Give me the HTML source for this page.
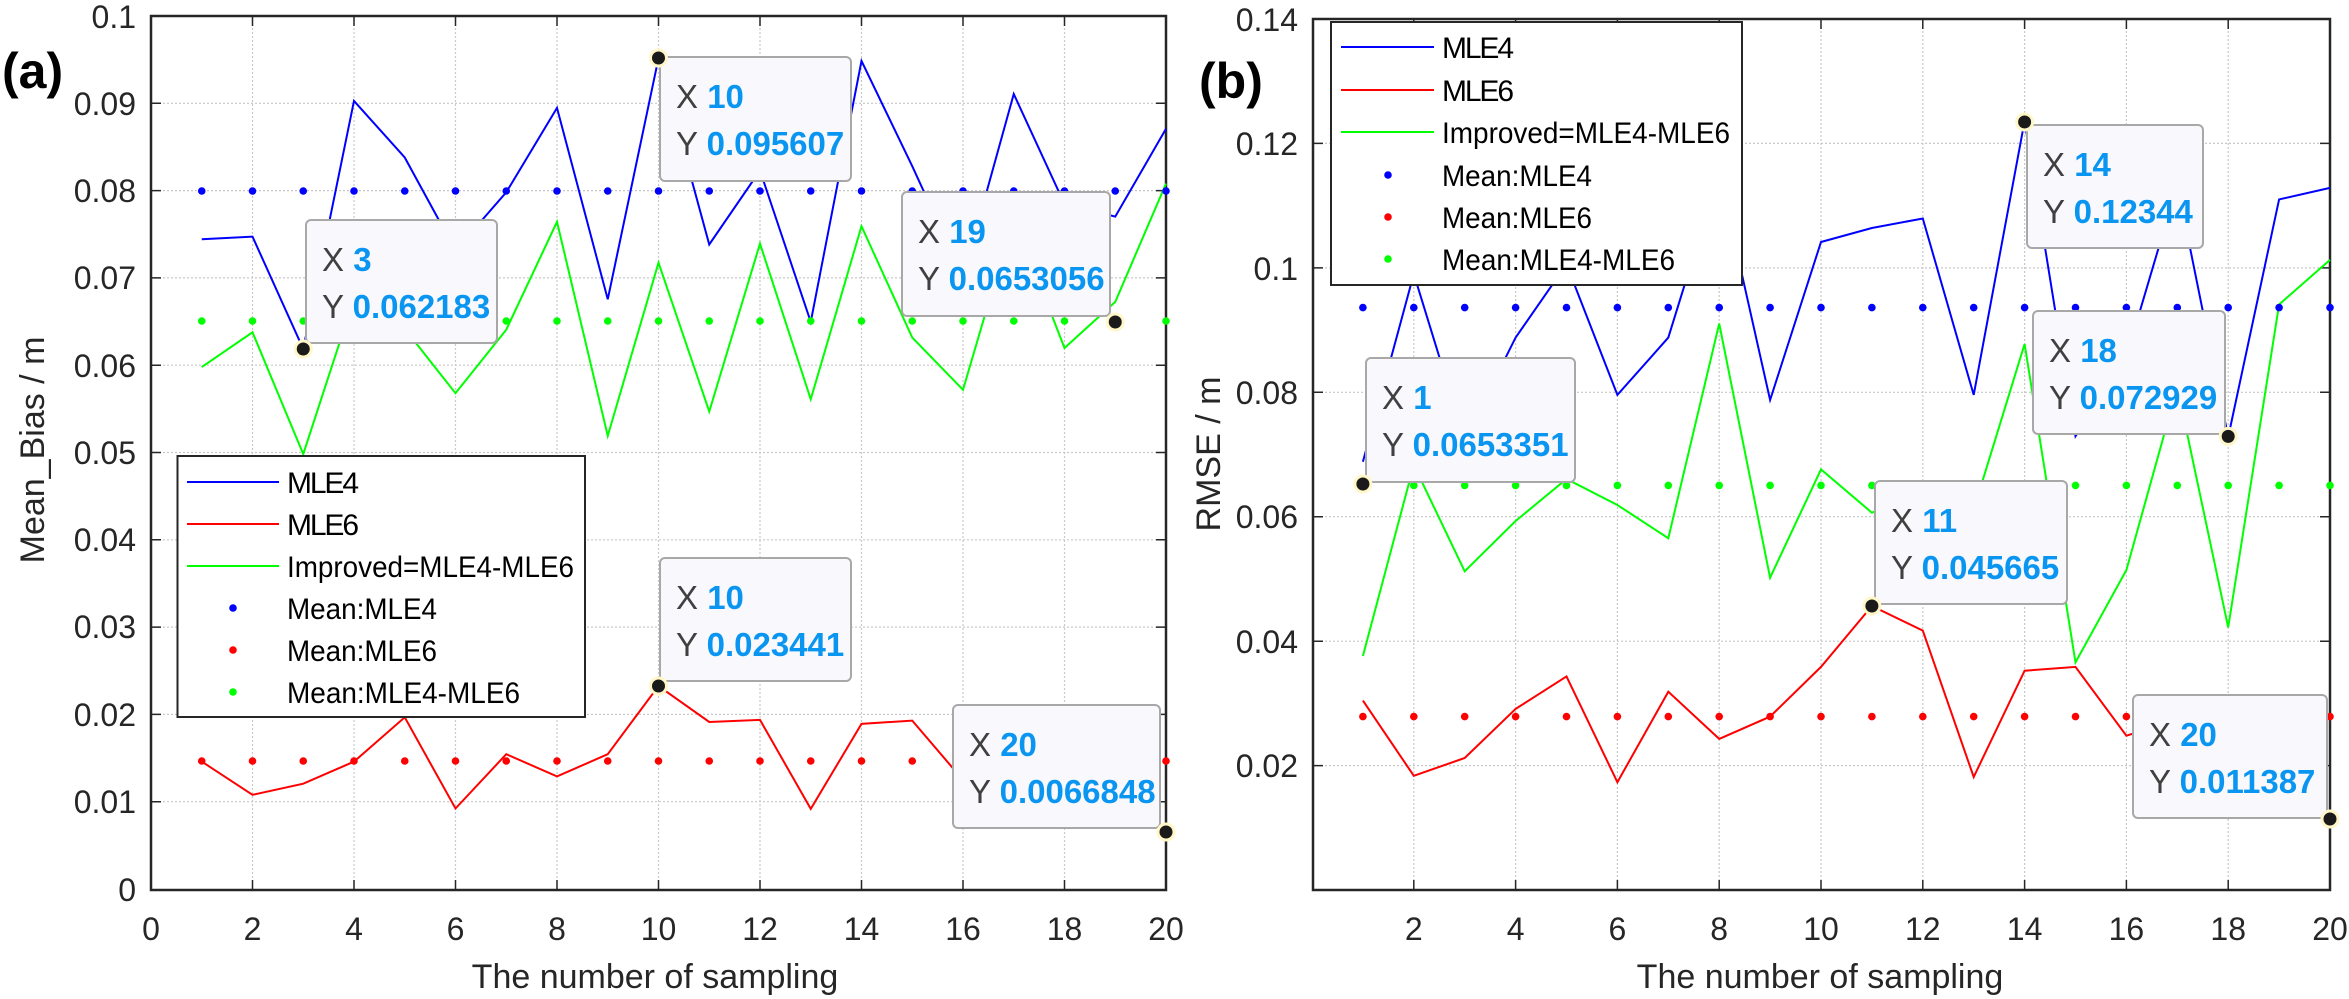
<!DOCTYPE html>
<html><head><meta charset="utf-8"><style>
html,body{margin:0;padding:0;background:#fff;}
svg{display:block;font-family:"Liberation Sans",Arial,sans-serif;}
.tk{font-size:32px;fill:#262626;}
.lg{font-size:30px;fill:#000;}
.tx{font-size:33px;fill:#404040;}
.tv{font-size:33px;fill:#0a96f0;font-weight:bold;}
.grid{stroke:#c8c8c8;stroke-width:1.2;stroke-dasharray:2,2;}
</style></head><body>
<svg width="2349" height="999" viewBox="0 0 2349 999">
<!-- LEFT PLOT -->
<g>
<g class="grid">
<line x1="252.5" y1="16" x2="252.5" y2="890"/><line x1="354" y1="16" x2="354" y2="890"/><line x1="455.5" y1="16" x2="455.5" y2="890"/><line x1="557" y1="16" x2="557" y2="890"/><line x1="658.5" y1="16" x2="658.5" y2="890"/><line x1="760" y1="16" x2="760" y2="890"/><line x1="861.5" y1="16" x2="861.5" y2="890"/><line x1="963" y1="16" x2="963" y2="890"/><line x1="1064.5" y1="16" x2="1064.5" y2="890"/>
<line x1="151" y1="103.3" x2="1166" y2="103.3"/><line x1="151" y1="190.6" x2="1166" y2="190.6"/><line x1="151" y1="277.9" x2="1166" y2="277.9"/><line x1="151" y1="365.2" x2="1166" y2="365.2"/><line x1="151" y1="452.5" x2="1166" y2="452.5"/><line x1="151" y1="539.8" x2="1166" y2="539.8"/><line x1="151" y1="627.1" x2="1166" y2="627.1"/><line x1="151" y1="714.4" x2="1166" y2="714.4"/><line x1="151" y1="801.7" x2="1166" y2="801.7"/>
</g>
<g stroke="#262626" stroke-width="1.5">
<path d="M252.5 890v-10M354 890v-10M455.5 890v-10M557 890v-10M658.5 890v-10M760 890v-10M861.5 890v-10M963 890v-10M1064.5 890v-10M252.5 16v10M354 16v10M455.5 16v10M557 16v10M658.5 16v10M760 16v10M861.5 16v10M963 16v10M1064.5 16v10"/>
<path d="M151 103.3h10M151 190.6h10M151 277.9h10M151 365.2h10M151 452.5h10M151 539.8h10M151 627.1h10M151 714.4h10M151 801.7h10M1166 103.3h-10M1166 190.6h-10M1166 277.9h-10M1166 365.2h-10M1166 452.5h-10M1166 539.8h-10M1166 627.1h-10M1166 714.4h-10M1166 801.7h-10"/>
</g>
<rect x="151" y="16" width="1015" height="874" fill="none" stroke="#262626" stroke-width="2.5"/>
<g class="tk" text-anchor="end">
<text x="136" y="28">0.1</text><text x="136" y="115">0.09</text><text x="136" y="202">0.08</text><text x="136" y="289">0.07</text><text x="136" y="377">0.06</text><text x="136" y="464">0.05</text><text x="136" y="551">0.04</text><text x="136" y="638">0.03</text><text x="136" y="726">0.02</text><text x="136" y="813">0.01</text><text x="136" y="901">0</text>
</g>
<g class="tk" text-anchor="middle">
<text x="151" y="940">0</text><text x="252.5" y="940">2</text><text x="354" y="940">4</text><text x="455.5" y="940">6</text><text x="557" y="940">8</text><text x="658.5" y="940">10</text><text x="760" y="940">12</text><text x="861.5" y="940">14</text><text x="963" y="940">16</text><text x="1064.5" y="940">18</text><text x="1166" y="940">20</text>
</g>
<text x="655" y="988" class="tk" text-anchor="middle" style="font-size:34px">The number of sampling</text>
<text transform="translate(44,450) rotate(-90)" class="tk" text-anchor="middle" style="font-size:34px">Mean_Bias / m</text>
<text x="2" y="88" style="font-size:50px;font-weight:bold" fill="#000">(a)</text>

<polyline fill="none" stroke="#0000ff" stroke-width="2" points="201.75,239.2 252.5,236.6 303.25,349 354,100.9 404.75,157.5 455.5,250.5 506.25,192.3 557,107.9 607.75,299.3 658.5,58.2 709.25,244.5 760,170.5 810.75,321.9 861.5,60.9 912.25,166.2 963,277 1013.75,94 1064.5,204 1115.25,216.6 1166,128.8"/>
<polyline fill="none" stroke="#00ff00" stroke-width="2" points="201.75,367.1 252.5,332.3 303.25,454.1 354,298.4 404.75,328.9 455.5,393.2 506.25,329.7 557,221.8 607.75,435.9 658.5,262.7 709.25,411.5 760,243.6 810.75,399.3 861.5,226.2 912.25,337.6 963,389.8 1013.75,217 1064.5,348 1115.25,301.9 1166,183.6"/>
<polyline fill="none" stroke="#ff0000" stroke-width="2" points="201.75,761.6 252.5,794.8 303.25,783.7 354,761.6 404.75,717.3 455.5,808.5 506.25,754.2 557,776.4 607.75,754.2 658.5,686 709.25,722 760,719.9 810.75,808.9 861.5,723.9 912.25,720.6 963,780 1013.75,781 1064.5,777 1115.25,785.6 1166,831.8"/>
<g fill="#0000ff"><circle cx="201.75" cy="191" r="3.8"/><circle cx="252.5" cy="191" r="3.8"/><circle cx="303.25" cy="191" r="3.8"/><circle cx="354" cy="191" r="3.8"/><circle cx="404.75" cy="191" r="3.8"/><circle cx="455.5" cy="191" r="3.8"/><circle cx="506.25" cy="191" r="3.8"/><circle cx="557" cy="191" r="3.8"/><circle cx="607.75" cy="191" r="3.8"/><circle cx="658.5" cy="191" r="3.8"/><circle cx="709.25" cy="191" r="3.8"/><circle cx="760" cy="191" r="3.8"/><circle cx="810.75" cy="191" r="3.8"/><circle cx="861.5" cy="191" r="3.8"/><circle cx="912.25" cy="191" r="3.8"/><circle cx="963" cy="191" r="3.8"/><circle cx="1013.75" cy="191" r="3.8"/><circle cx="1064.5" cy="191" r="3.8"/><circle cx="1115.25" cy="191" r="3.8"/><circle cx="1166" cy="191" r="3.8"/></g>
<g fill="#00ff00"><circle cx="201.75" cy="321" r="3.8"/><circle cx="252.5" cy="321" r="3.8"/><circle cx="303.25" cy="321" r="3.8"/><circle cx="354" cy="321" r="3.8"/><circle cx="404.75" cy="321" r="3.8"/><circle cx="455.5" cy="321" r="3.8"/><circle cx="506.25" cy="321" r="3.8"/><circle cx="557" cy="321" r="3.8"/><circle cx="607.75" cy="321" r="3.8"/><circle cx="658.5" cy="321" r="3.8"/><circle cx="709.25" cy="321" r="3.8"/><circle cx="760" cy="321" r="3.8"/><circle cx="810.75" cy="321" r="3.8"/><circle cx="861.5" cy="321" r="3.8"/><circle cx="912.25" cy="321" r="3.8"/><circle cx="963" cy="321" r="3.8"/><circle cx="1013.75" cy="321" r="3.8"/><circle cx="1064.5" cy="321" r="3.8"/><circle cx="1115.25" cy="321" r="3.8"/><circle cx="1166" cy="321" r="3.8"/></g>
<g fill="#ff0000"><circle cx="201.75" cy="761" r="3.8"/><circle cx="252.5" cy="761" r="3.8"/><circle cx="303.25" cy="761" r="3.8"/><circle cx="354" cy="761" r="3.8"/><circle cx="404.75" cy="761" r="3.8"/><circle cx="455.5" cy="761" r="3.8"/><circle cx="506.25" cy="761" r="3.8"/><circle cx="557" cy="761" r="3.8"/><circle cx="607.75" cy="761" r="3.8"/><circle cx="658.5" cy="761" r="3.8"/><circle cx="709.25" cy="761" r="3.8"/><circle cx="760" cy="761" r="3.8"/><circle cx="810.75" cy="761" r="3.8"/><circle cx="861.5" cy="761" r="3.8"/><circle cx="912.25" cy="761" r="3.8"/><circle cx="963" cy="761" r="3.8"/><circle cx="1013.75" cy="761" r="3.8"/><circle cx="1064.5" cy="761" r="3.8"/><circle cx="1115.25" cy="761" r="3.8"/><circle cx="1166" cy="761" r="3.8"/></g>

<!-- left legend -->
<rect x="177.5" y="456" width="407.5" height="261" fill="#fff" stroke="#262626" stroke-width="2"/>
<line x1="187" y1="482" x2="279" y2="482" stroke="#0000ff" stroke-width="2"/>
<line x1="187" y1="524" x2="279" y2="524" stroke="#ff0000" stroke-width="2"/>
<line x1="187" y1="566" x2="279" y2="566" stroke="#00ff00" stroke-width="2"/>
<circle cx="233" cy="608" r="3.8" fill="#0000ff"/><circle cx="233" cy="650" r="3.8" fill="#ff0000"/><circle cx="233" cy="692" r="3.8" fill="#00ff00"/>
<g class="lg"><text x="287" y="493" textLength="72">MLE4</text><text x="287" y="535" textLength="72">MLE6</text><text x="287" y="577" textLength="287" lengthAdjust="spacingAndGlyphs">Improved=MLE4-MLE6</text><text x="287" y="619" textLength="150" lengthAdjust="spacingAndGlyphs">Mean:MLE4</text><text x="287" y="661" textLength="150" lengthAdjust="spacingAndGlyphs">Mean:MLE6</text><text x="287" y="703" textLength="233" lengthAdjust="spacingAndGlyphs">Mean:MLE4-MLE6</text></g>
</g>

<!-- RIGHT PLOT -->
<g>
<g class="grid">
<line x1="1413.8" y1="19" x2="1413.8" y2="890"/><line x1="1515.6" y1="19" x2="1515.6" y2="890"/><line x1="1617.4" y1="19" x2="1617.4" y2="890"/><line x1="1719.2" y1="19" x2="1719.2" y2="890"/><line x1="1821" y1="19" x2="1821" y2="890"/><line x1="1922.8" y1="19" x2="1922.8" y2="890"/><line x1="2024.6" y1="19" x2="2024.6" y2="890"/><line x1="2126.4" y1="19" x2="2126.4" y2="890"/><line x1="2228.2" y1="19" x2="2228.2" y2="890"/>
<line x1="1313" y1="143.4" x2="2330" y2="143.4"/><line x1="1313" y1="267.9" x2="2330" y2="267.9"/><line x1="1313" y1="392.3" x2="2330" y2="392.3"/><line x1="1313" y1="516.7" x2="2330" y2="516.7"/><line x1="1313" y1="641.2" x2="2330" y2="641.2"/><line x1="1313" y1="765.6" x2="2330" y2="765.6"/>
</g>
<g stroke="#262626" stroke-width="1.5">
<path d="M1413.8 890v-10M1515.6 890v-10M1617.4 890v-10M1719.2 890v-10M1821 890v-10M1922.8 890v-10M2024.6 890v-10M2126.4 890v-10M2228.2 890v-10M1413.8 19v10M1515.6 19v10M1617.4 19v10M1719.2 19v10M1821 19v10M1922.8 19v10M2024.6 19v10M2126.4 19v10M2228.2 19v10"/>
<path d="M1313 143.4h10M1313 267.9h10M1313 392.3h10M1313 516.7h10M1313 641.2h10M1313 765.6h10M2330 143.4h-10M2330 267.9h-10M2330 392.3h-10M2330 516.7h-10M2330 641.2h-10M2330 765.6h-10"/>
</g>
<rect x="1313" y="19" width="1017" height="871" fill="none" stroke="#262626" stroke-width="2.5"/>
<g class="tk" text-anchor="end">
<text x="1298" y="31">0.14</text><text x="1298" y="155">0.12</text><text x="1298" y="280">0.1</text><text x="1298" y="404">0.08</text><text x="1298" y="528">0.06</text><text x="1298" y="653">0.04</text><text x="1298" y="777">0.02</text>
</g>
<g class="tk" text-anchor="middle">
<text x="1413.8" y="940">2</text><text x="1515.6" y="940">4</text><text x="1617.4" y="940">6</text><text x="1719.2" y="940">8</text><text x="1821" y="940">10</text><text x="1922.8" y="940">12</text><text x="2024.6" y="940">14</text><text x="2126.4" y="940">16</text><text x="2228.2" y="940">18</text><text x="2330" y="940">20</text>
</g>
<text x="1820" y="988" class="tk" text-anchor="middle" style="font-size:34px">The number of sampling</text>
<text transform="translate(1220,454) rotate(-90)" class="tk" text-anchor="middle" style="font-size:34px">RMSE / m</text>
<text x="1199" y="98" style="font-size:50px;font-weight:bold" fill="#000">(b)</text>

<polyline fill="none" stroke="#0000ff" stroke-width="2" points="1362.9,461.8 1413.8,273.9 1464.7,439.5 1515.6,337.6 1566.5,264.3 1617.4,394.9 1668.3,337.6 1719.2,173.2 1770.1,400 1821,242 1871.9,228 1922.8,218.5 1973.7,394.9 2024.6,121 2075.5,436.3 2126.4,356.7 2177.3,184.7 2228.2,437 2279.1,199.4 2330,187.9"/>
<polyline fill="none" stroke="#00ff00" stroke-width="2" points="1362.9,656 1413.8,465 1464.7,571.3 1515.6,521 1566.5,479 1617.4,505 1668.3,538.2 1719.2,323.6 1770.1,577.7 1821,469.4 1871.9,512.7 1922.8,490.4 1973.7,509.6 2024.6,344 2075.5,662.4 2126.4,570 2177.3,387.3 2228.2,627.4 2279.1,304.5 2330,259.9"/>
<polyline fill="none" stroke="#ff0000" stroke-width="2" points="1362.9,700.6 1413.8,775.8 1464.7,758 1515.6,708.9 1566.5,676.4 1617.4,782.2 1668.3,691.7 1719.2,738.9 1770.1,716.6 1821,666.9 1871.9,606 1922.8,630.6 1973.7,777 2024.6,670.7 2075.5,666.9 2126.4,735.7 2177.3,719.7 2228.2,751.6 2279.1,796 2330,819.2"/>
<g fill="#0000ff"><circle cx="1362.9" cy="307.6" r="3.8"/><circle cx="1413.8" cy="307.6" r="3.8"/><circle cx="1464.7" cy="307.6" r="3.8"/><circle cx="1515.6" cy="307.6" r="3.8"/><circle cx="1566.5" cy="307.6" r="3.8"/><circle cx="1617.4" cy="307.6" r="3.8"/><circle cx="1668.3" cy="307.6" r="3.8"/><circle cx="1719.2" cy="307.6" r="3.8"/><circle cx="1770.1" cy="307.6" r="3.8"/><circle cx="1821" cy="307.6" r="3.8"/><circle cx="1871.9" cy="307.6" r="3.8"/><circle cx="1922.8" cy="307.6" r="3.8"/><circle cx="1973.7" cy="307.6" r="3.8"/><circle cx="2024.6" cy="307.6" r="3.8"/><circle cx="2075.5" cy="307.6" r="3.8"/><circle cx="2126.4" cy="307.6" r="3.8"/><circle cx="2177.3" cy="307.6" r="3.8"/><circle cx="2228.2" cy="307.6" r="3.8"/><circle cx="2279.1" cy="307.6" r="3.8"/><circle cx="2330" cy="307.6" r="3.8"/></g>
<g fill="#00ff00"><circle cx="1362.9" cy="485.4" r="3.8"/><circle cx="1413.8" cy="485.4" r="3.8"/><circle cx="1464.7" cy="485.4" r="3.8"/><circle cx="1515.6" cy="485.4" r="3.8"/><circle cx="1566.5" cy="485.4" r="3.8"/><circle cx="1617.4" cy="485.4" r="3.8"/><circle cx="1668.3" cy="485.4" r="3.8"/><circle cx="1719.2" cy="485.4" r="3.8"/><circle cx="1770.1" cy="485.4" r="3.8"/><circle cx="1821" cy="485.4" r="3.8"/><circle cx="1871.9" cy="485.4" r="3.8"/><circle cx="1922.8" cy="485.4" r="3.8"/><circle cx="1973.7" cy="485.4" r="3.8"/><circle cx="2024.6" cy="485.4" r="3.8"/><circle cx="2075.5" cy="485.4" r="3.8"/><circle cx="2126.4" cy="485.4" r="3.8"/><circle cx="2177.3" cy="485.4" r="3.8"/><circle cx="2228.2" cy="485.4" r="3.8"/><circle cx="2279.1" cy="485.4" r="3.8"/><circle cx="2330" cy="485.4" r="3.8"/></g>
<g fill="#ff0000"><circle cx="1362.9" cy="716.6" r="3.8"/><circle cx="1413.8" cy="716.6" r="3.8"/><circle cx="1464.7" cy="716.6" r="3.8"/><circle cx="1515.6" cy="716.6" r="3.8"/><circle cx="1566.5" cy="716.6" r="3.8"/><circle cx="1617.4" cy="716.6" r="3.8"/><circle cx="1668.3" cy="716.6" r="3.8"/><circle cx="1719.2" cy="716.6" r="3.8"/><circle cx="1770.1" cy="716.6" r="3.8"/><circle cx="1821" cy="716.6" r="3.8"/><circle cx="1871.9" cy="716.6" r="3.8"/><circle cx="1922.8" cy="716.6" r="3.8"/><circle cx="1973.7" cy="716.6" r="3.8"/><circle cx="2024.6" cy="716.6" r="3.8"/><circle cx="2075.5" cy="716.6" r="3.8"/><circle cx="2126.4" cy="716.6" r="3.8"/><circle cx="2177.3" cy="716.6" r="3.8"/><circle cx="2228.2" cy="716.6" r="3.8"/><circle cx="2279.1" cy="716.6" r="3.8"/><circle cx="2330" cy="716.6" r="3.8"/></g>

<!-- right legend -->
<rect x="1331" y="22" width="411" height="263" fill="#fff" stroke="#262626" stroke-width="2"/>
<line x1="1341" y1="47" x2="1434" y2="47" stroke="#0000ff" stroke-width="2"/>
<line x1="1341" y1="90" x2="1434" y2="90" stroke="#ff0000" stroke-width="2"/>
<line x1="1341" y1="132" x2="1434" y2="132" stroke="#00ff00" stroke-width="2"/>
<circle cx="1388" cy="175" r="3.8" fill="#0000ff"/><circle cx="1388" cy="217" r="3.8" fill="#ff0000"/><circle cx="1388" cy="259" r="3.8" fill="#00ff00"/>
<g class="lg"><text x="1442" y="58" textLength="72">MLE4</text><text x="1442" y="101" textLength="72">MLE6</text><text x="1442" y="143" textLength="288" lengthAdjust="spacingAndGlyphs">Improved=MLE4-MLE6</text><text x="1442" y="186" textLength="150" lengthAdjust="spacingAndGlyphs">Mean:MLE4</text><text x="1442" y="228" textLength="150" lengthAdjust="spacingAndGlyphs">Mean:MLE6</text><text x="1442" y="270" textLength="233" lengthAdjust="spacingAndGlyphs">Mean:MLE4-MLE6</text></g>
</g>

<!-- datatips -->
<g>
<g fill="#f8f8fd" stroke="#a8a8a8" stroke-width="2">
<rect x="306" y="220" width="191" height="123" rx="5"/>
<rect x="660" y="57" width="191" height="124" rx="5"/>
<rect x="902" y="192" width="208" height="124" rx="5"/>
<rect x="660" y="558" width="191" height="123" rx="5"/>
<rect x="953" y="705" width="207" height="123" rx="5"/>
<rect x="1366" y="358" width="209" height="124" rx="5"/>
<rect x="2027" y="125" width="176" height="123" rx="5"/>
<rect x="2033" y="311" width="192" height="123" rx="5"/>
<rect x="1875" y="481" width="192" height="123" rx="5"/>
<rect x="2133" y="695" width="194" height="123" rx="5"/>
</g>
<g>
<text x="322" y="271"><tspan class="tx">X </tspan><tspan class="tv">3</tspan></text><text x="322" y="318"><tspan class="tx">Y </tspan><tspan class="tv">0.062183</tspan></text>
<text x="676" y="108"><tspan class="tx">X </tspan><tspan class="tv">10</tspan></text><text x="676" y="155"><tspan class="tx">Y </tspan><tspan class="tv">0.095607</tspan></text>
<text x="918" y="243"><tspan class="tx">X </tspan><tspan class="tv">19</tspan></text><text x="918" y="290"><tspan class="tx">Y </tspan><tspan class="tv">0.0653056</tspan></text>
<text x="676" y="609"><tspan class="tx">X </tspan><tspan class="tv">10</tspan></text><text x="676" y="656"><tspan class="tx">Y </tspan><tspan class="tv">0.023441</tspan></text>
<text x="969" y="756"><tspan class="tx">X </tspan><tspan class="tv">20</tspan></text><text x="969" y="803"><tspan class="tx">Y </tspan><tspan class="tv">0.0066848</tspan></text>
<text x="1382" y="409"><tspan class="tx">X </tspan><tspan class="tv">1</tspan></text><text x="1382" y="456"><tspan class="tx">Y </tspan><tspan class="tv">0.0653351</tspan></text>
<text x="2043" y="176"><tspan class="tx">X </tspan><tspan class="tv">14</tspan></text><text x="2043" y="223"><tspan class="tx">Y </tspan><tspan class="tv">0.12344</tspan></text>
<text x="2049" y="362"><tspan class="tx">X </tspan><tspan class="tv">18</tspan></text><text x="2049" y="409"><tspan class="tx">Y </tspan><tspan class="tv">0.072929</tspan></text>
<text x="1891" y="532"><tspan class="tx">X </tspan><tspan class="tv">11</tspan></text><text x="1891" y="579"><tspan class="tx">Y </tspan><tspan class="tv">0.045665</tspan></text>
<text x="2149" y="746"><tspan class="tx">X </tspan><tspan class="tv">20</tspan></text><text x="2149" y="793"><tspan class="tx">Y </tspan><tspan class="tv">0.011387</tspan></text>
</g>
<g fill="#1a1a1a" stroke="#fff7c8" stroke-width="3">
<circle cx="303.25" cy="349" r="8"/><circle cx="658.5" cy="58" r="8"/><circle cx="1115.25" cy="322" r="8"/><circle cx="658.5" cy="686" r="8"/><circle cx="1166" cy="832" r="8"/>
<circle cx="1362.9" cy="484" r="8"/><circle cx="2024.6" cy="122" r="8"/><circle cx="2228.2" cy="436.4" r="8"/><circle cx="1871.9" cy="606" r="8"/><circle cx="2330" cy="819" r="8"/>
</g>
</g>
</svg>
</body></html>
